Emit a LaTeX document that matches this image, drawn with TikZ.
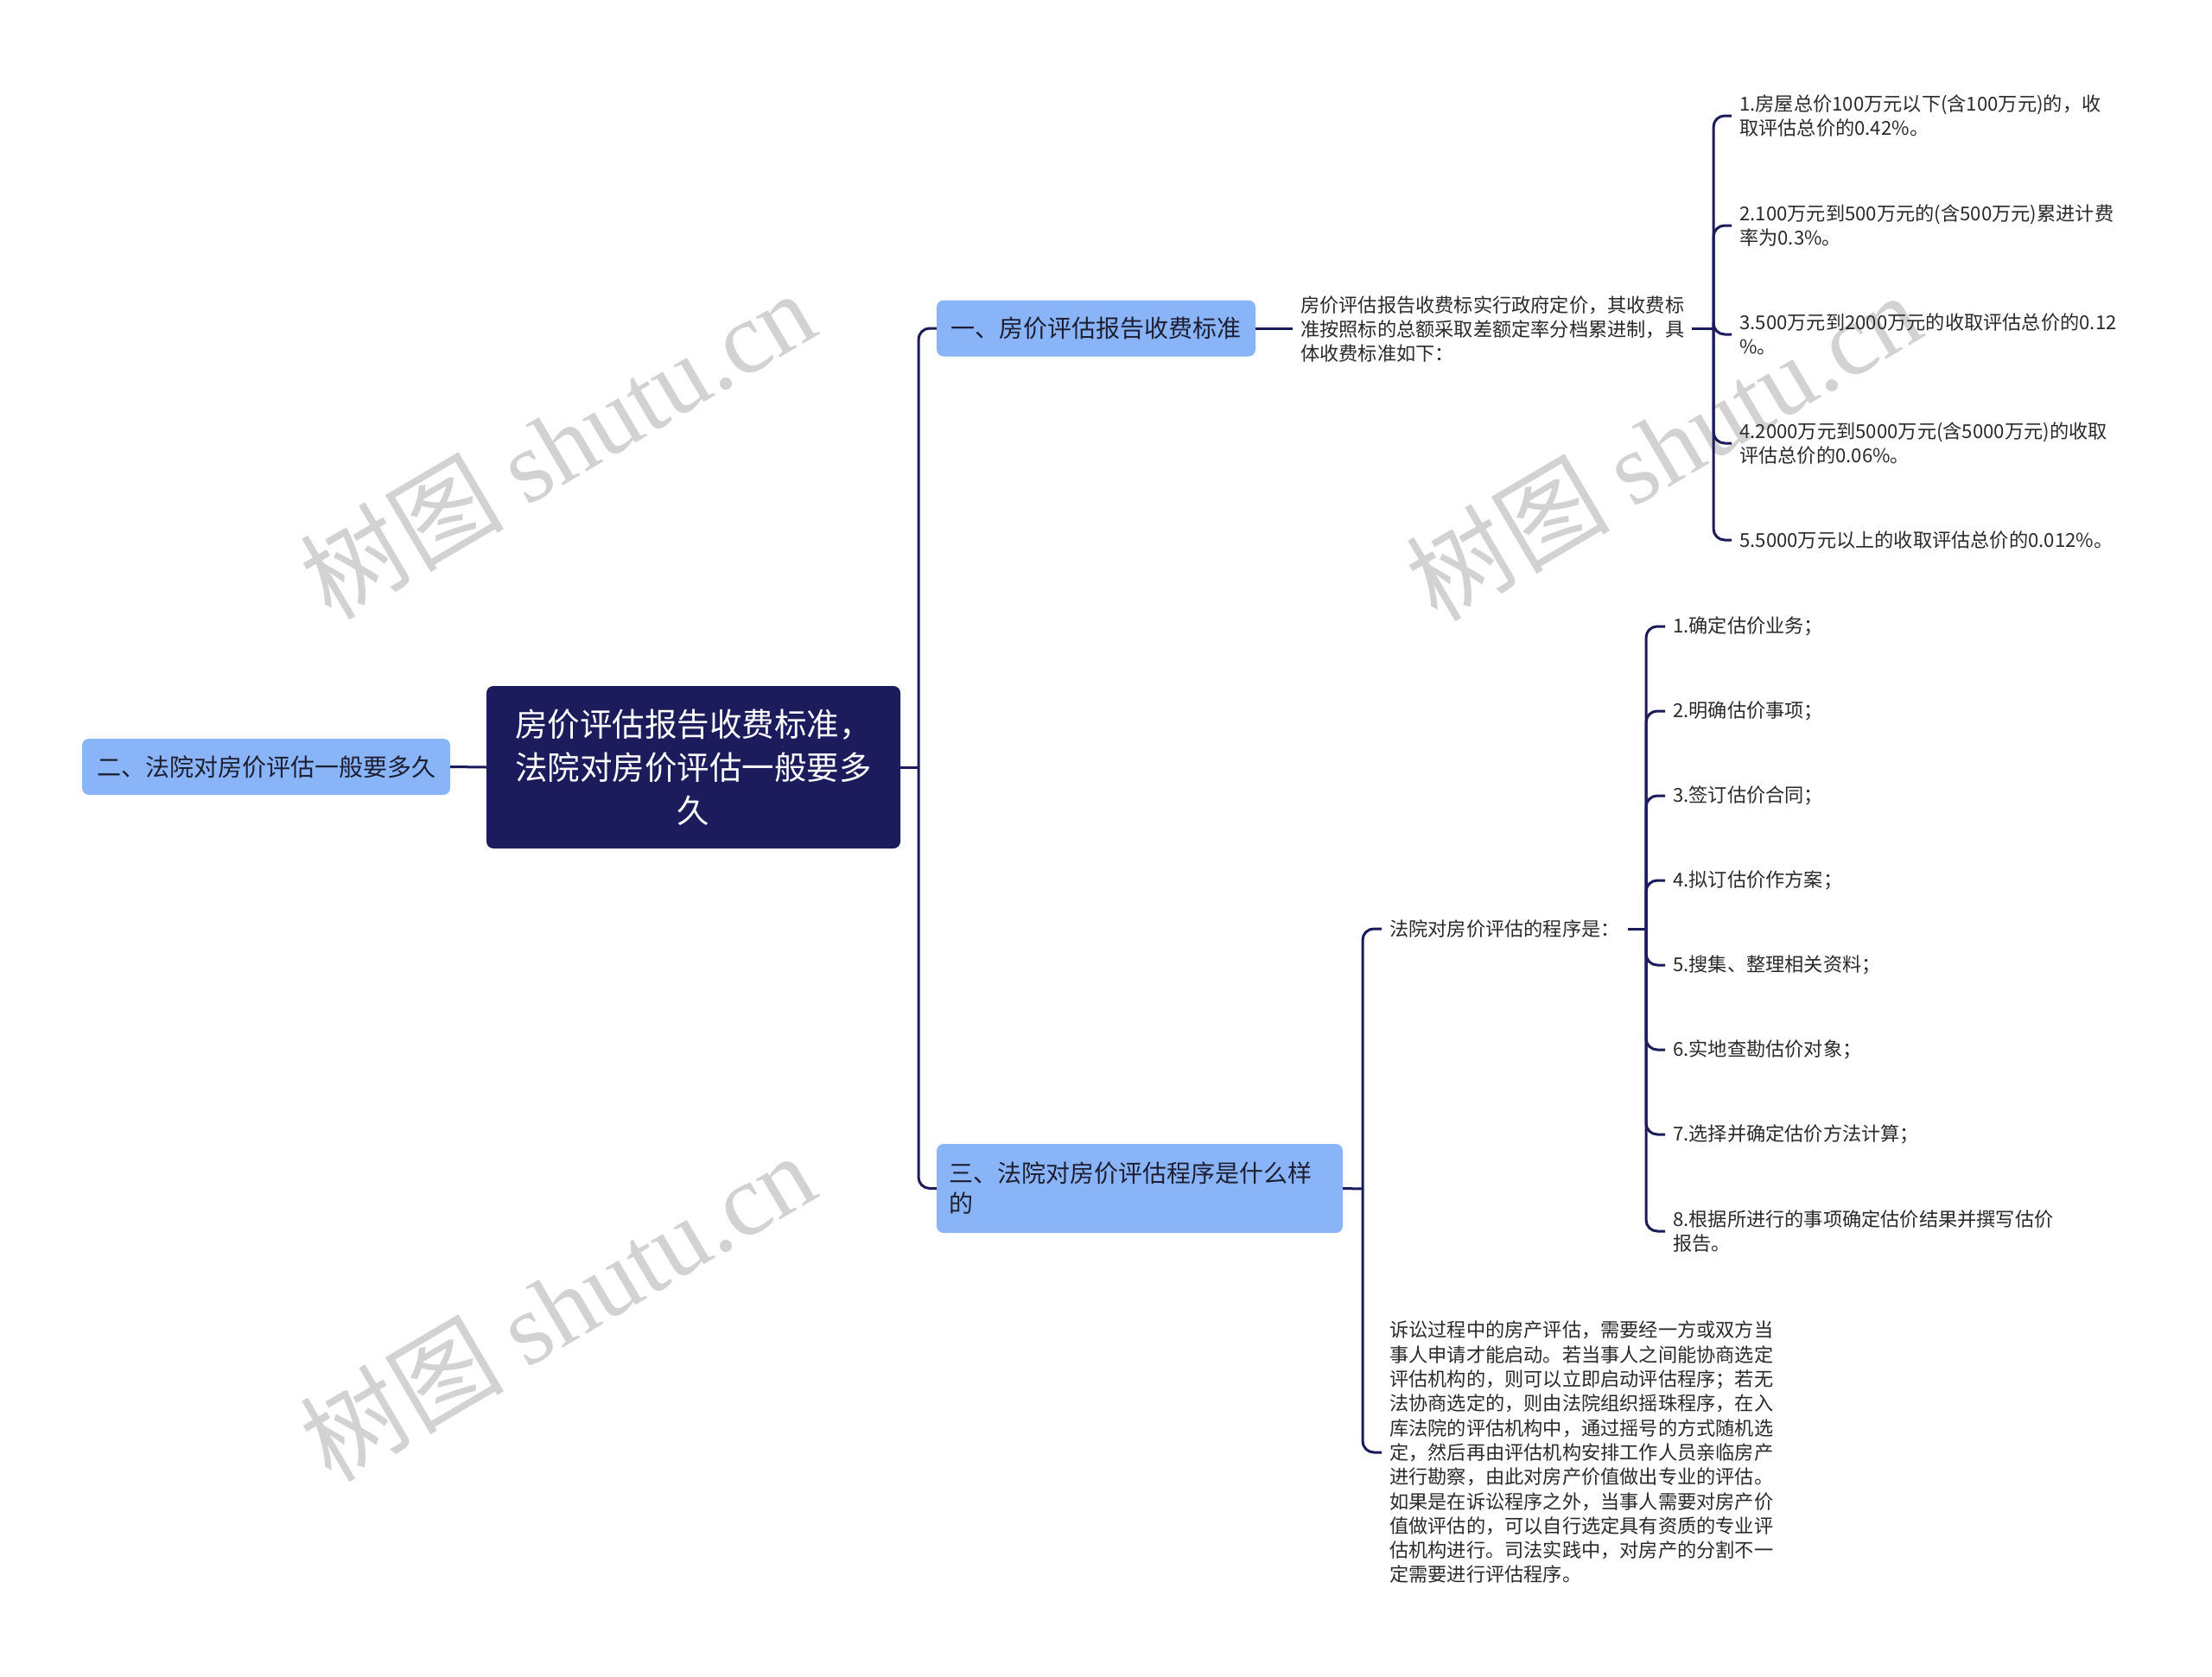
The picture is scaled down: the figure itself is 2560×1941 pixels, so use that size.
\documentclass[tikz,border=0pt]{standalone}
\usepackage{fontspec}
\setmainfont{Noto Sans CJK SC}
\newfontfamily\wmlatin{Liberation Serif}
\definecolor{navy}{HTML}{1C1B5C}
\definecolor{lblue}{HTML}{8AB4F8}
\definecolor{boxtext}{HTML}{1E1E32}
\definecolor{itemtext}{HTML}{2A2A2A}
\definecolor{wm}{HTML}{D2D2D2}
\tikzset{
  conn/.style={draw=navy, line width=3pt},
  bconn/.style={conn, rounded corners=13pt},
  rootbox/.style={fill=navy, rounded corners=8pt, text=white, align=center,
    font=\fontsize{37.5}{50}\selectfont, minimum width=479pt, minimum height=188pt, inner sep=0pt},
  topicbox/.style={fill=lblue, rounded corners=8pt, text=boxtext,
    font=\fontsize{28}{35}\selectfont, minimum height=65pt, inner sep=0pt},
  itemtxt/.style={text=itemtext, align=left, font=\fontsize{22.2}{28.3}\selectfont,
    inner xsep=9pt, inner ysep=0pt, anchor=west},
  wmark/.style={text=wm, rotate=30.5, font=\fontsize{118}{120}\selectfont}
}
\begin{document}
\begin{tikzpicture}[x=1pt,y=-1pt]
\useasboundingbox (0,0) rectangle (2560,1941);
\fill[white] (0,0) rectangle (2560,1941);
% watermarks
\node[wmark] (wm1) at (645,514) {树图 {\wmlatin shutu.cn}};
\node[wmark] (wm2) at (1925,516) {树图 {\wmlatin shutu.cn}};
\node[wmark] (wm3) at (645,1512) {树图 {\wmlatin shutu.cn}};
% nodes
\node[rootbox] (root) at (802.5,888) {房价评估报告收费标准，\\法院对房价评估一般要多\\久};
\node[topicbox, minimum width=426pt] (left) at (308,887.5) {二、法院对房价评估一般要多久};
\node[topicbox, minimum width=369pt] (n1) at (1268.5,380) {一、房价评估报告收费标准};
\node[topicbox, minimum width=470pt, minimum height=103pt, text width=442pt, align=left] (n3) at (1319,1375.5) {三、法院对房价评估程序是什么样\\的};
\node[itemtxt] (t1) at (1496,381) {房价评估报告收费标实行政府定价，其收费标\\准按照标的总额采取差额定率分档累进制，具\\体收费标准如下：};
\node[itemtxt] (a1) at (2004,134) {1.房屋总价100万元以下(含100万元)的，收\\取评估总价的0.42\%。};
\node[itemtxt] (a2) at (2004,261) {2.100万元到500万元的(含500万元)累进计费\\率为0.3\%。};
\node[itemtxt] (a3) at (2004,387) {3.500万元到2000万元的收取评估总价的0.12\\\%。};
\node[itemtxt] (a4) at (2004,513) {4.2000万元到5000万元(含5000万元)的收取\\评估总价的0.06\%。};
\node[itemtxt] (a5) at (2004,625) {5.5000万元以上的收取评估总价的0.012\%。};
\node[itemtxt] (b0) at (1599,1075) {法院对房价评估的程序是：};
\node[itemtxt] (b9) at (1599,1681) {诉讼过程中的房产评估，需要经一方或双方当\\事人申请才能启动。若当事人之间能协商选定\\评估机构的，则可以立即启动评估程序；若无\\法协商选定的，则由法院组织摇珠程序，在入\\库法院的评估机构中，通过摇号的方式随机选\\定，然后再由评估机构安排工作人员亲临房产\\进行勘察，由此对房产价值做出专业的评估。\\如果是在诉讼程序之外，当事人需要对房产价\\值做评估的，可以自行选定具有资质的专业评\\估机构进行。司法实践中，对房产的分割不一\\定需要进行评估程序。};
\node[itemtxt] (c1) at (1927,725) {1.确定估价业务；};
\node[itemtxt] (c2) at (1927,823) {2.明确估价事项；};
\node[itemtxt] (c3) at (1927,921) {3.签订估价合同；};
\node[itemtxt] (c4) at (1927,1019) {4.拟订估价作方案；};
\node[itemtxt] (c5) at (1927,1117) {5.搜集、整理相关资料；};
\node[itemtxt] (c6) at (1927,1215) {6.实地查勘估价对象；};
\node[itemtxt] (c7) at (1927,1313) {7.选择并确定估价方法计算；};
\node[itemtxt] (c8) at (1927,1425) {8.根据所进行的事项确定估价结果并撰写估价\\报告。};
% junctions
\coordinate (j0) at (1063,888);
\coordinate (j1) at (1983,380);
\coordinate (j2) at (1577,1376);
\coordinate (j3) at (1905,1075);
% connectors
\draw[conn] (left.east) -- (root.west);
\draw[conn] (root.east) -- (j0);
\draw[bconn] (j0) |- (n1.west);
\draw[bconn] (j0) |- (n3.west);
\draw[conn] (n1.east) -- (n1.east -| t1.west);
\draw[conn] (t1.east |- j1) -- (j1);
\foreach \c in {a1,a2,a3,a4,a5} {\draw[bconn] (j1) |- (\c.west);}
\draw[conn] (n3.east) -- (j2);
\draw[bconn] (j2) |- (b0.west);
\draw[bconn] (j2) |- (b9.west);
\draw[conn] (b0.east) -- (j3);
\foreach \c in {c1,c2,c3,c4,c5,c6,c7,c8} {\draw[bconn] (j3) |- (\c.west);}
\end{tikzpicture}
\end{document}
